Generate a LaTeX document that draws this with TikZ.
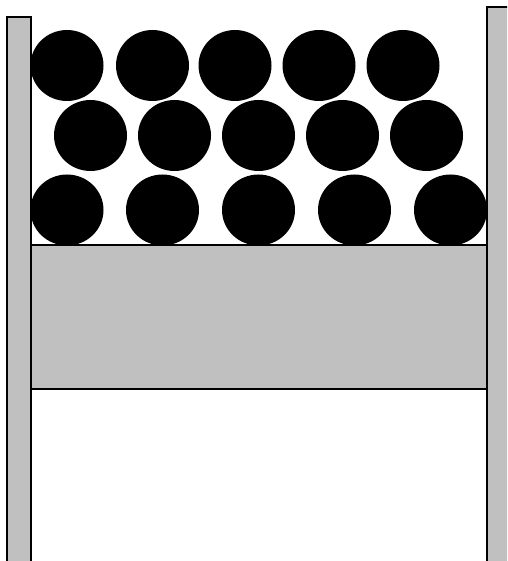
\documentclass[tikz,border=0pt]{standalone}
\begin{document}
\begin{tikzpicture}[x=1pt,y=-1pt,
  wall/.style={fill=wallgray,draw=black,line width=2pt},
  ball/.style={fill=black,draw=none}]
\definecolor{wallgray}{HTML}{C0C0C0}
\useasboundingbox (0,0) rectangle (507,561);
\clip (0,0) rectangle (507,561);
% walls
\draw[wall] (7,17) rectangle (31,580);
\draw[wall] (487,7) rectangle (530,580);
% piston
\draw[wall] (31,245) rectangle (487,389);
% balls
\foreach \x in {67,152.5,235,319,403} \fill[ball] (\x,65.5) ellipse [x radius=36.5, y radius=35.5];
\foreach \x in {90.5,174.5,258.5,342.5,426.5} \fill[ball] (\x,135.5) ellipse [x radius=36.5, y radius=35.5];
\foreach \x in {67,162.5,258.5,354.5,450.5} \fill[ball] (\x,210) ellipse [x radius=36.5, y radius=35.5];
\end{tikzpicture}
\end{document}
